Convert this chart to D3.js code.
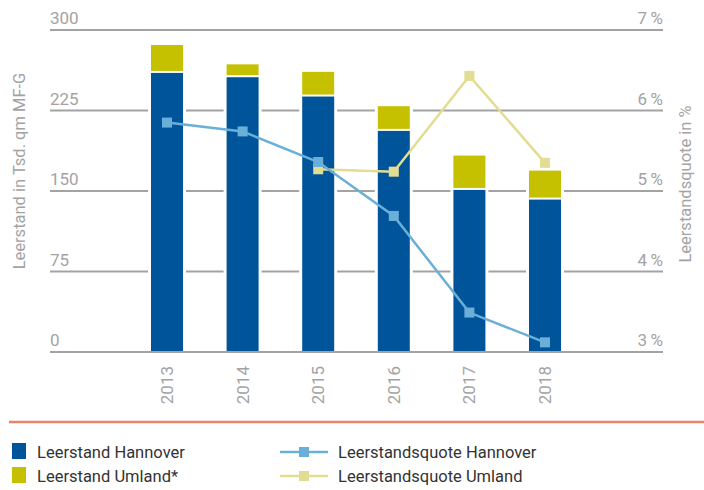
<!DOCTYPE html>
<html>
  <head>
    <meta charset="utf-8">
    <script src="https://d3js.org/d3.v7.min.js"></script>
    <style>
      body { margin: 0px; background: #fff; }
      text { font-family: Roboto, sans-serif; }
      .tick-label { fill: #a3a3a3; font-size: 17px; }
      .axis-label { fill: #a3a3a3; font-size: 16.5px; }
      .legend-label { fill: #333; font-size: 16.5px; }
    </style>
  </head>
  <body>
    <svg width="704" height="490"></svg>
    <script>
      const years = ['2013', '2014', '2015', '2016', '2017', '2018'];
      const hannover = [260, 256, 238, 206, 151, 142];
      const umland = [26, 12, 23, 23, 32, 27];
      const quoteHannover = [5.85, 5.74, 5.36, 4.69, 3.49, 3.12];
      const quoteUmland = [null, null, 5.27, 5.24, 6.43, 5.35];
      const leftTicks = [0, 75, 150, 225, 300];
      const rightTicks = [3, 4, 5, 6, 7];

      const blue = '#00559a', yellow = '#c5c000';
      const lineBlue = '#6aafd8', lineYellow = '#e2dd92';
      const grid = '#a3a3a3';

      const svg = d3.select('svg');
      const x0 = 50, x1 = 663, yTop = 30, yBottom = 352;

      const xScale = d3.scalePoint().domain(years).range([167, 545]);
      const yScale = d3.scaleLinear().domain([0, 300]).range([yBottom, yTop]);
      const yScale2 = d3.scaleLinear().domain([3, 7]).range([yBottom, yTop]);
      const barW = 32;

      // gridlines + tick labels
      svg.append('g').selectAll('line').data(leftTicks).join('line')
        .attr('x1', x0).attr('x2', x1)
        .attr('y1', d => yScale(d)).attr('y2', d => yScale(d))
        .attr('stroke', grid).attr('stroke-width', 2);

      svg.append('g').selectAll('text').data(leftTicks).join('text')
        .attr('class', 'tick-label')
        .attr('x', x0).attr('y', d => yScale(d) - 6)
        .text(d => d);

      svg.append('g').selectAll('text').data(rightTicks).join('text')
        .attr('class', 'tick-label')
        .attr('x', x1).attr('y', d => yScale2(d) - 6)
        .attr('text-anchor', 'end')
        .text(d => d + '\u2009%');

      const data = years.map((y, i) => ({ year: y, h: hannover[i], u: umland[i] }));

      // white knock-out behind bars so gridlines break
      svg.append('g').selectAll('rect').data(data).join('rect')
        .attr('x', d => xScale(d.year) - barW / 2 - 3)
        .attr('width', barW + 6)
        .attr('y', d => yScale(d.h + d.u) - 1)
        .attr('height', d => yBottom - yScale(d.h + d.u))
        .attr('fill', '#fff');

      svg.append('g').selectAll('rect').data(data).join('rect')
        .attr('x', d => xScale(d.year) - barW / 2)
        .attr('width', barW)
        .attr('y', d => yScale(d.h))
        .attr('height', d => yBottom - yScale(d.h))
        .attr('fill', blue);

      svg.append('g').selectAll('rect').data(data).join('rect')
        .attr('x', d => xScale(d.year) - barW / 2)
        .attr('width', barW)
        .attr('y', d => yScale(d.h + d.u))
        .attr('height', d => yScale(d.h) - yScale(d.h + d.u) - 2)
        .attr('fill', yellow);

      // baseline
      svg.append('line')
        .attr('x1', x0).attr('x2', x1)
        .attr('y1', yScale(0)).attr('y2', yScale(0))
        .attr('stroke', grid).attr('stroke-width', 2);

      // x labels
      svg.append('g').selectAll('text').data(years).join('text')
        .attr('class', 'tick-label')
        .attr('transform', d => `translate(${xScale(d) + 6},366) rotate(-90)`)
        .attr('text-anchor', 'end')
        .text(d => d);

      // lines
      const drawLine = (vals, color) => {
        const pts = years.map((y, i) => ({ year: y, v: vals[i] })).filter(d => d.v != null);
        svg.append('path').datum(pts)
          .attr('fill', 'none').attr('stroke', color).attr('stroke-width', 2.5)
          .attr('d', d3.line().x(d => xScale(d.year)).y(d => yScale2(d.v)));
        svg.append('g').selectAll('rect').data(pts).join('rect')
          .attr('x', d => xScale(d.year) - 5).attr('y', d => yScale2(d.v) - 5)
          .attr('width', 10).attr('height', 10)
          .attr('fill', color);
      };
      drawLine(quoteUmland, lineYellow);
      drawLine(quoteHannover, lineBlue);

      // axis titles
      svg.append('text').attr('class', 'axis-label')
        .attr('transform', `translate(25,${(yTop + yBottom) / 2 - 20}) rotate(-90)`)
        .attr('text-anchor', 'middle')
        .text('Leerstand in Tsd. qm MF-G');
      svg.append('text').attr('class', 'axis-label')
        .attr('transform', `translate(691,${(yTop + yBottom) / 2 - 7}) rotate(-90)`)
        .attr('text-anchor', 'middle')
        .text('Leerstandsquote in %');

      // separator
      svg.append('line')
        .attr('x1', 9).attr('x2', 704).attr('y1', 422).attr('y2', 422)
        .attr('stroke', '#e8846c').attr('stroke-width', 2.5);

      // legend
      const legBars = [['Leerstand Hannover', blue], ['Leerstand Umland*', yellow]];
      const legLines = [['Leerstandsquote Hannover', lineBlue], ['Leerstandsquote Umland', lineYellow]];
      legBars.forEach(([label, c], i) => {
        const y = 452 + i * 24;
        svg.append('rect').attr('x', 12).attr('y', y - 9).attr('width', 14).attr('height', 16).attr('fill', c);
        svg.append('text').attr('class', 'legend-label').attr('x', 37).attr('y', y + 6).text(label);
      });
      legLines.forEach(([label, c], i) => {
        const y = 452 + i * 24;
        svg.append('line').attr('x1', 280).attr('x2', 328).attr('y1', y).attr('y2', y)
          .attr('stroke', c).attr('stroke-width', 2.5);
        svg.append('rect').attr('x', 299).attr('y', y - 5).attr('width', 10).attr('height', 10).attr('fill', c);
        svg.append('text').attr('class', 'legend-label').attr('x', 338).attr('y', y + 6).text(label);
      });
    </script>
  </body>
</html>
